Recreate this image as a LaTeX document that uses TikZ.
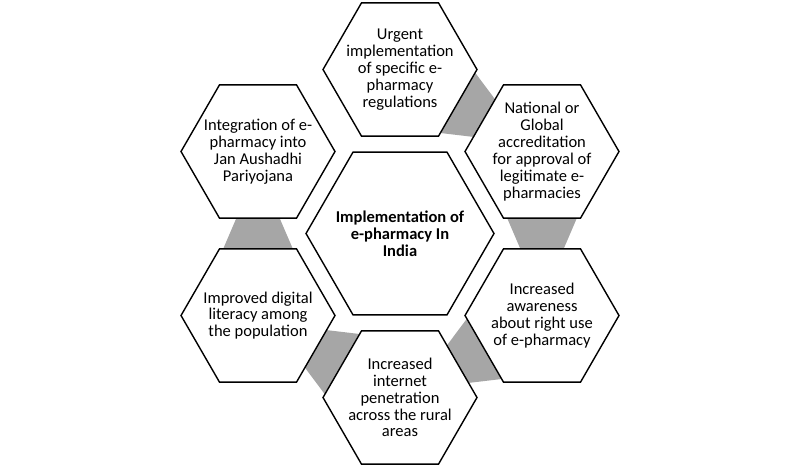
\documentclass[tikz,border=0pt]{standalone}
\usepackage{fontspec}
\setmainfont{Carlito}
\usetikzlibrary{shapes.geometric,calc,backgrounds}
\definecolor{linkgray}{RGB}{166,166,166}

% grey tapered link from one hexagon to the next
\newcommand{\hexlink}[2]{%
  \fill[linkgray] ($(#1)!0.39!(#2)!0.72cm!90:(#2)$) -- ($(#1)!0.39!(#2)!0.72cm!-90:(#2)$)
    -- ($(#1)!0.61!(#2)!0.41cm!-90:(#2)$) -- ($(#1)!0.61!(#2)!0.41cm!90:(#2)$) -- cycle;}

\begin{document}
\begin{tikzpicture}[
    x=0.02cm, y=-0.02cm,
    hexbox/.style={regular polygon, regular polygon sides=6, draw, line width=0.8pt,
      fill=white, inner sep=-5pt, minimum size=3.08cm, align=center,
      font=\fontsize{9.4}{9.6}\selectfont},
    hexmain/.style={hexbox, minimum size=3.76cm, font=\fontsize{9.4}{9.6}\selectfont\bfseries}
]
\useasboundingbox (0,0) rectangle (800,467);

% Centre
\node[hexmain] (main) at (400,233.5) {Implementation of\\e-pharmacy In\\India};

% Outer ring
\node[hexbox] (urgent) at (400,69.5) {Urgent\\implementation\\of specific e-\\pharmacy\\regulations};
\node[hexbox] (accred) at (542,151.5) {National or\\Global\\accreditation\\for approval of\\legitimate e-\\pharmacies};
\node[hexbox] (aware) at (542,315.5) {Increased\\awareness\\about right use\\of e-pharmacy};
\node[hexbox] (internet) at (400,397.5) {Increased\\internet\\penetration\\across the rural\\areas};
\node[hexbox] (literacy) at (258,315.5) {Improved digital\\literacy among\\the population};
\node[hexbox] (jan) at (258,151.5) {Integration of e-\\pharmacy into\\Jan Aushadhi\\Pariyojana};

% Links
\begin{scope}[on background layer]
\hexlink{urgent}{accred}
\hexlink{accred}{aware}
\hexlink{aware}{internet}
\hexlink{internet}{literacy}
\hexlink{literacy}{jan}
\end{scope}

\end{tikzpicture}
\end{document}
